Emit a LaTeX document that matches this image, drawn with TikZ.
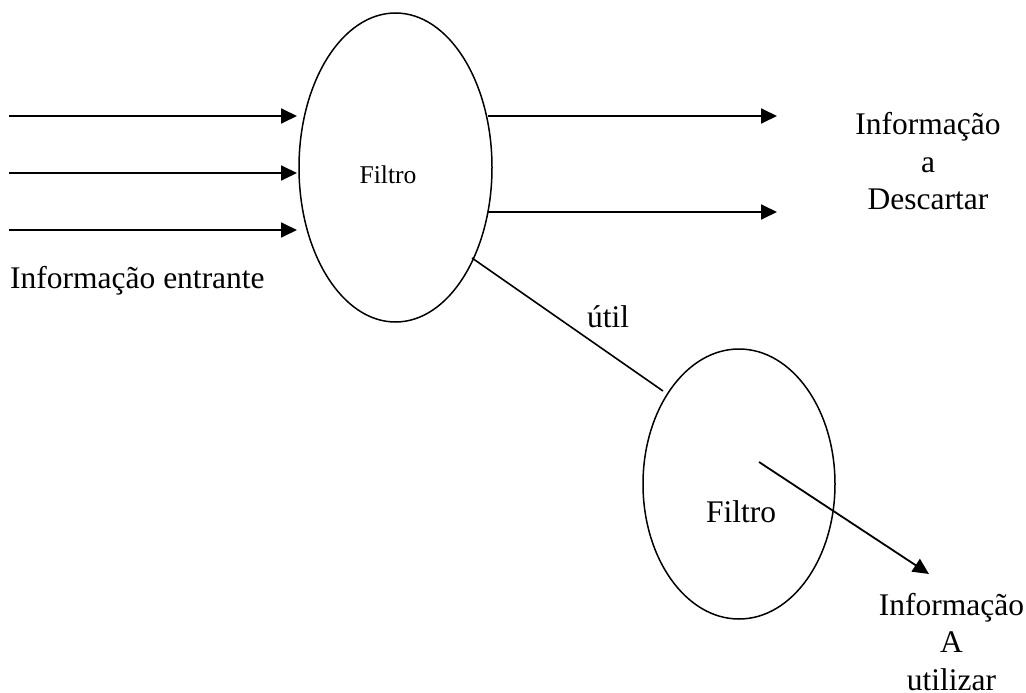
\documentclass[tikz,border=0pt]{standalone}
\usepackage{fontspec}
\setmainfont{Liberation Serif}
\usetikzlibrary{shapes.geometric,arrows.meta}
\tikzset{
  filt/.style={draw, ellipse, line width=1.5pt, inner sep=0pt, outer sep=0pt},
  lbl/.style={font=\fontsize{31.5}{37.5}\selectfont, inner sep=0pt, align=center},
  smalllbl/.style={font=\fontsize{25.6}{30}\selectfont, inner sep=0pt},
  flow/.style={line width=1.8pt, -{Triangle[length=16pt,width=15pt]}},
  link/.style={line width=1.6pt}
}
\begin{document}
\begin{tikzpicture}[x=1pt,y=-1pt]
\useasboundingbox (0,0) rectangle (1026,693);
% ellipses
\node[filt, minimum width=193pt, minimum height=309pt] (e1) at (395.5,167.5) {};
\node[filt, minimum width=192pt, minimum height=270pt] (e2) at (739,484) {};
\node[smalllbl, anchor=base] (f1) at (388,183) {Filtro};
\node[lbl, anchor=base] (f2) at (741,522) {Filtro};
% incoming
\coordinate (i1s) at (9,116);   \coordinate (i1e) at (297,116);
\coordinate (i2s) at (9,173);   \coordinate (i2e) at (297,173);
\coordinate (i3s) at (9,230);   \coordinate (i3e) at (297,230);
\draw[flow] (i1s) -- (i1e);
\draw[flow] (i2s) -- (i2e);
\draw[flow] (i3s) -- (i3e);
\node[lbl, anchor=base west] (tin) at (10,288) {Informação entrante};
% discard
\coordinate (d1s) at (488,116); \coordinate (d1e) at (777,116);
\coordinate (d2s) at (488,212); \coordinate (d2e) at (777,212);
\draw[flow] (d1s) -- (d1e);
\draw[flow] (d2s) -- (d2e);
\node[lbl] (tdesc) at (928,161.5) {Informação\\a\\Descartar};
% useful
\coordinate (u1) at (472,258);
\coordinate (u2) at (663,391);
\draw[link] (u1) -- (u2);
\node[lbl, anchor=base] (tutil) at (608,327) {útil};
% output
\coordinate (o1) at (759,462);
\coordinate (o2) at (929,574);
\draw[flow] (o1) -- (o2);
\node[lbl] (tuse) at (951.5,642) {Informação\\A\\utilizar};
\end{tikzpicture}
\end{document}
